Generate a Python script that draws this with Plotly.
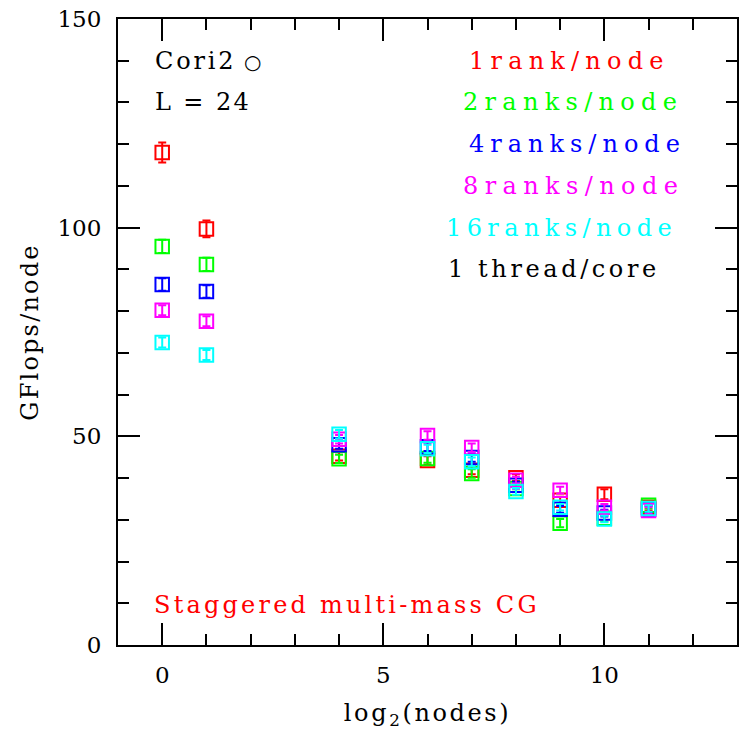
import plotly.graph_objects as go

# log2 of the number of nodes
log2_nodes = [0, 1, 4, 6, 7, 8, 9, 10, 11]

# GFlops per node for each ranks-per-node setting
gf_1rank = [118.0, 99.7, 45.2, 44.2, 41.9, 40.1, 34.7, 36.1, 33.0]
gf_2ranks = [95.5, 91.2, 44.6, 44.7, 41.1, 37.5, 29.2, 30.4, 33.5]
gf_4ranks = [86.4, 84.7, 48.0, 47.5, 44.9, 38.3, 32.5, 31.6, 32.5]
gf_8ranks = [80.2, 77.6, 49.3, 50.2, 47.3, 39.5, 37.1, 33.0, 32.2]
gf_16ranks = [72.5, 69.5, 50.5, 47.0, 43.9, 36.8, 33.0, 30.2, 32.7]

# error bars
err_1rank = [2.4, 2.0, 1.0, 1.0, 1.0, 0.8, 0.8, 1.2, 0.8]
err_2ranks = [1.6, 1.6, 1.0, 1.0, 1.0, 0.8, 1.0, 0.8, 0.8]
err_4ranks = [1.5, 1.5, 1.0, 1.0, 1.0, 0.8, 0.8, 0.8, 0.8]
err_8ranks = [1.2, 1.2, 1.0, 1.0, 1.0, 0.8, 0.8, 0.8, 0.8]
err_16ranks = [1.2, 1.2, 1.0, 1.0, 1.0, 0.8, 0.8, 0.8, 0.8]

series_labels = ["1rank/node", "2ranks/node", "4ranks/node", "8ranks/node", "16ranks/node"]
series_colors = ["#ff0000", "#00ff00", "#0000ff", "#ff00ff", "#00ffff"]
series_values = [gf_1rank, gf_2ranks, gf_4ranks, gf_8ranks, gf_16ranks]
series_errors = [err_1rank, err_2ranks, err_4ranks, err_8ranks, err_16ranks]

FONT = "DejaVu Serif"


def spaced(text, px):
    """Wrap text in a span with extra letter spacing (wide plotter-style lettering)."""
    return f"<span style='letter-spacing:{px}px'>{text}</span>"


fig = go.Figure()
for label, color, vals, errs in zip(series_labels, series_colors, series_values, series_errors):
    fig.add_trace(go.Scatter(
        x=log2_nodes, y=vals, mode="markers", name=label,
        marker=dict(symbol="square-open", size=13.5, color=color,
                    line=dict(width=2, color=color)),
        error_y=dict(type="data", array=errs, visible=True, color=color,
                     thickness=2, width=4),
        showlegend=False,
    ))

# text key on the right
key_y = [140, 130, 120, 110, 100]
key_x = [6.89, 6.76, 6.89, 6.76, 6.37]
key_sp = [6.2, 6.3, 6.0, 6.4, 5.4]
for label, color, x, y, sp in zip(series_labels, series_colors, key_x, key_y, key_sp):
    fig.add_annotation(x=x, y=y, text=spaced(label, sp), showarrow=False, xanchor="left",
                       yanchor="middle", font=dict(family=FONT, size=24, color=color))
fig.add_annotation(x=6.42, y=90, text=spaced("1 thread/core", 3.6), showarrow=False,
                   xanchor="left", yanchor="middle",
                   font=dict(family=FONT, size=24, color="black"))

fig.add_annotation(x=-0.2, y=140,
                   text=spaced("Cori2", 2.8) + " <span style='font-size:20px'>○</span>",
                   showarrow=False, xanchor="left", yanchor="middle",
                   font=dict(family=FONT, size=24, color="black"))
fig.add_annotation(x=-0.2, y=130, text=spaced("L = 24", 2.4), showarrow=False,
                   xanchor="left", yanchor="middle",
                   font=dict(family=FONT, size=24, color="black"))
fig.add_annotation(x=-0.22, y=9.6, text=spaced("Staggered multi-mass CG", 3.2),
                   showarrow=False, xanchor="left", yanchor="middle",
                   font=dict(family=FONT, size=24, color="#ff0000"))

axis_common = dict(
    showline=True, linewidth=2, linecolor="black", mirror="allticks",
    ticks="inside", ticklen=22, tickwidth=1.5, tickcolor="black",
    showgrid=False, zeroline=False,
    tickfont=dict(family=FONT, size=23, color="black"),
)

fig.update_xaxes(range=[-1, 13], tickvals=[0, 5, 10],
                 minor=dict(dtick=1, tick0=0, ticks="inside", ticklen=11,
                            tickwidth=1.5, tickcolor="black", showgrid=False),
                 title=dict(text=spaced("log<sub>2</sub>(nodes)", 2.6), standoff=18,
                            font=dict(family=FONT, size=24, color="black")),
                 ticklabelstandoff=8, **axis_common)
fig.update_yaxes(range=[0, 150], tickvals=[0, 50, 100, 150],
                 minor=dict(dtick=10, tick0=0, ticks="inside", ticklen=11,
                            tickwidth=1.5, tickcolor="black", showgrid=False),
                 title=dict(text=spaced("GFlops/node", 2.2), standoff=12,
                            font=dict(family=FONT, size=24, color="black")),
                 ticklabelstandoff=10, **axis_common)

fig.update_layout(
    width=740, height=733,
    margin=dict(l=118, r=1, t=19, b=88),
    plot_bgcolor="white", paper_bgcolor="white",
)

fig.write_html("out.html")
